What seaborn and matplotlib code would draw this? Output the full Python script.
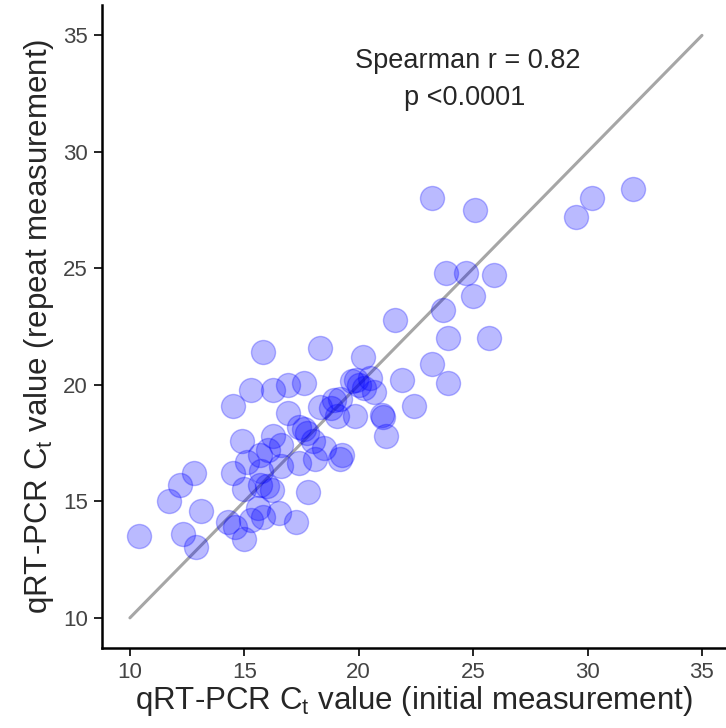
import numpy as np
import pandas as pd
import matplotlib
matplotlib.use('Agg')
import matplotlib.pyplot as plt
import seaborn as sns

sns.set_style("white")
plt.rcParams['font.family'] = ['Liberation Sans', 'DejaVu Sans']
plt.rcParams['mathtext.fontset'] = 'custom'
plt.rcParams['mathtext.rm'] = 'Liberation Sans'

# Ct values
initial_ct = [10.4, 12.3, 12.9, 11.7, 12.2, 12.8, 13.1, 14.3, 14.6, 15.0,
              15.3, 15.8, 15.6, 16.5, 17.25, 14.5, 15.1, 15.0, 15.7, 16.0,
              16.2, 15.75, 15.7, 16.05, 16.6, 17.4, 18.1, 19.2, 17.8, 14.9,
              16.25, 16.6, 17.4, 17.6, 17.75, 18.0, 18.5, 19.25, 16.9, 14.5,
              15.3, 16.25, 16.9, 17.6, 15.8, 18.3, 18.3, 18.8, 19.2, 19.7,
              20.0, 20.25, 20.5, 20.65, 19.85, 19.05, 21.0, 21.05, 21.2, 20.2,
              21.9, 22.4, 21.6, 23.2, 23.9, 23.9, 25.7, 23.7, 25.0, 23.8,
              24.7, 25.9, 23.2, 25.1, 29.5, 30.2, 32.0, 19.9, 18.9]
repeat_ct = [13.5, 13.6, 13.05, 15.0, 15.7, 16.2, 14.6, 14.1, 13.9, 13.4,
             14.2, 14.35, 14.7, 14.5, 14.1, 16.2, 16.7, 15.55, 15.7, 15.65,
             15.5, 16.3, 17.0, 17.2, 16.5, 16.65, 16.8, 16.8, 15.4, 17.6,
             17.8, 17.4, 18.2, 18.1, 17.95, 17.6, 17.3, 17.0, 18.8, 19.1,
             19.8, 19.8, 20.0, 20.1, 21.4, 21.6, 19.05, 19.0, 19.4, 20.15,
             20.0, 19.85, 20.3, 19.7, 18.65, 18.65, 18.7, 18.6, 17.8, 21.2,
             20.2, 19.1, 22.8, 20.9, 20.1, 22.0, 22.0, 23.2, 23.8, 24.8,
             24.8, 24.7, 28.0, 27.5, 27.2, 28.0, 28.4, 20.2, 19.35]
identity = [10, 35]
ticks = [10, 15, 20, 25, 30, 35]

df = pd.DataFrame({'initial': initial_ct, 'repeat': repeat_ct})

fig = plt.figure(figsize=(7.26, 7.28), dpi=100)
ax = fig.add_axes([0.1405, 0.110, 0.8595, 0.883])

# identity line
ax.plot(identity, identity, color='#a6a6a6', linewidth=2.2, zorder=1)
sns.scatterplot(data=df, x='initial', y='repeat', ax=ax, s=300,
                color='blue', alpha=0.27, edgecolor='blue', linewidth=1.0,
                zorder=2)

ax.text(24.75, 33.9, 'Spearman r = 0.82', ha='center', va='center', fontsize=19.5)
ax.text(24.65, 32.3, 'p <0.0001', ha='center', va='center', fontsize=19.5)

ax.set_xlim(8.78, 36.05)
ax.set_ylim(8.71, 36.3)
ax.set_xticks(ticks)
ax.set_yticks(ticks)
ax.tick_params(axis='both', which='both', direction='out', length=6, width=1.2,
               color='black', labelsize=16, labelcolor='#444444', pad=4,
               bottom=True, left=True)
for side in ['top', 'right']:
    ax.spines[side].set_visible(False)
for side in ['left', 'bottom']:
    ax.spines[side].set_linewidth(1.8)
    ax.spines[side].set_color('black')

ax.set_xlabel(r'qRT-PCR C$_\mathregular{t}$ value (initial measurement)', fontsize=22.5, labelpad=1)
ax.set_ylabel(r'qRT-PCR C$_\mathregular{t}$ value (repeat measurement)', fontsize=22.5, labelpad=5)

fig.savefig('out.png', dpi=100)
